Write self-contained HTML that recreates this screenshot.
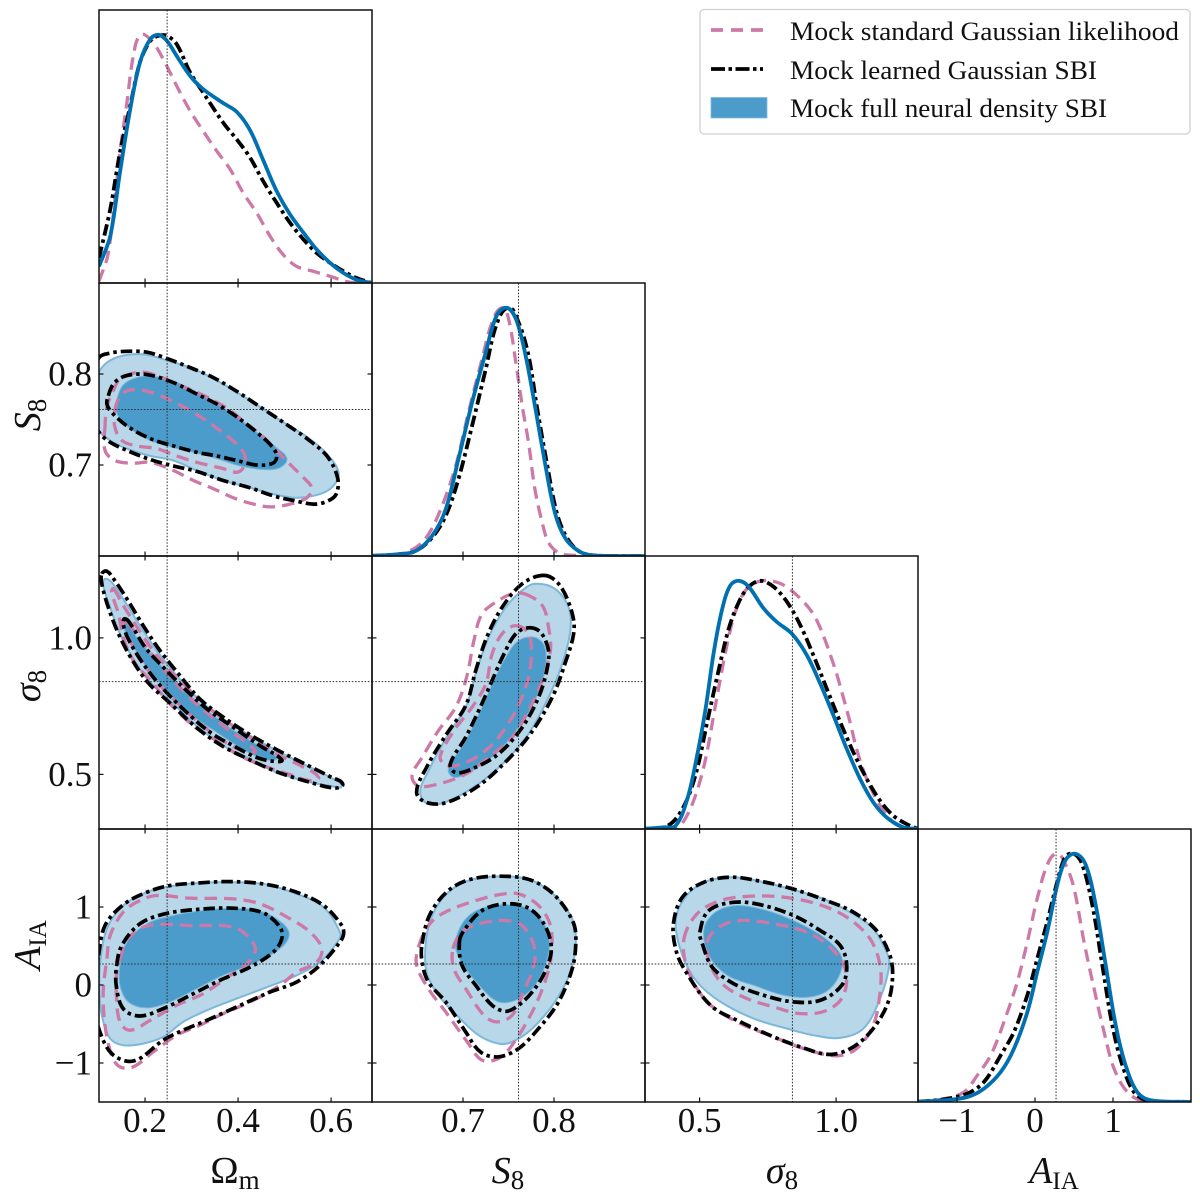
<!DOCTYPE html>
<html lang="en">
<head>
<meta charset="utf-8">
<title>Mock posterior corner plot</title>
<style>
html,body{margin:0;padding:0;background:#fff;}
svg{display:block;}
text{font-family:"Liberation Serif",serif;fill:#111;}
</style>
</head>
<body>
<svg id="chart" xmlns="http://www.w3.org/2000/svg" width="1200" height="1200" viewBox="0 0 1200 1200">
  <rect x="0" y="0" width="1200" height="1200" fill="#fff"/>
  <g id="panels"></g>
  <g id="ticklabels"></g>
  <g>
    <text x="235" y="1183" text-anchor="middle" font-size="38">Ω<tspan dy="6" font-size="27">m</tspan></text>
    <text x="508" y="1183" text-anchor="middle" font-size="38"><tspan font-style="italic">S</tspan><tspan dy="6" font-size="27">8</tspan></text>
    <text x="782" y="1183" text-anchor="middle" font-size="38"><tspan font-style="italic">σ</tspan><tspan dy="6" font-size="27">8</tspan></text>
    <text x="1054" y="1183" text-anchor="middle" font-size="38"><tspan font-style="italic">A</tspan><tspan dy="6" font-size="25">IA</tspan></text>
    <text transform="translate(40 415) rotate(-90)" text-anchor="middle" font-size="38"><tspan font-style="italic">S</tspan><tspan dy="6" font-size="27">8</tspan></text>
    <text transform="translate(40 686) rotate(-90)" text-anchor="middle" font-size="38"><tspan font-style="italic">σ</tspan><tspan dy="6" font-size="27">8</tspan></text>
    <text transform="translate(40 945) rotate(-90)" text-anchor="middle" font-size="38"><tspan font-style="italic">A</tspan><tspan dy="6" font-size="25">IA</tspan></text>
  </g>
  <g>
    <rect x="700" y="9.5" width="490" height="124.5" rx="4" fill="#fff" stroke="#d0d0d0" stroke-width="1.3"/>
    <line x1="711" y1="30" x2="763" y2="30" stroke="#cc79a7" stroke-width="3.8" stroke-dasharray="12 8"/>
    <text x="790" y="40" font-size="26" textLength="389" lengthAdjust="spacingAndGlyphs">Mock standard Gaussian likelihood</text>
    <line x1="711" y1="69" x2="763" y2="69" stroke="#000" stroke-width="3.8" stroke-dasharray="14 3.5 3.5 3.5"/>
    <text x="790" y="79" font-size="26" textLength="307" lengthAdjust="spacingAndGlyphs">Mock learned Gaussian SBI</text>
    <rect x="711" y="97.5" width="56" height="20.5" fill="#4b9ccb" stroke="#7fb9dc" stroke-width="0.8"/>
    <text x="790" y="117" font-size="26" textLength="317" lengthAdjust="spacingAndGlyphs">Mock full neural density SBI</text>
  </g>
</svg>
<script>
// ---------- tick values and labels ----------
const omTicks = [0.2, 0.4, 0.6];
const omTickLabels = ["0.2", "0.4", "0.6"];
const s8Ticks = [0.7, 0.8];
const s8TickLabels = ["0.7", "0.8"];
const sigTicks = [0.5, 1.0];
const sigTickLabels = ["0.5", "1.0"];
const aTicks = [-1, 0, 1];
const aTickLabels = ["\u22121", "0", "1"];

// ---------- fiducial truth values ----------
const truthOm = 0.2475;
const truthS8 = 0.761;
const truthSig = 0.84;
const truthA = 0.27;

// ---------- 1D marginals: [parameter value, normalised density] ----------
const omBlue = [[.101,.067],[.125,.188],[.146,.444],[.168,.700],[.189,.888],[.211,.982],[.229,1],[.247,.976],[.268,.915],[.297,.834],[.325,.781],[.368,.725],[.397,.690],[.426,.615],[.454,.495],[.483,.370],[.512,.276],[.541,.202],[.569,.135],[.598,.081],[.627,.040],[.655,.013],[.687,0]];
const omBlack = [[.101,.101],[.125,.296],[.146,.525],[.168,.713],[.189,.888],[.211,.976],[.229,.996],[.247,.996],[.268,.962],[.297,.848],[.325,.767],[.368,.646],[.397,.579],[.426,.505],[.454,.410],[.483,.323],[.512,.242],[.541,.175],[.569,.121],[.598,.081],[.627,.047],[.655,.020],[.687,0]];
const omPink = [[.101,.007],[.121,.121],[.146,.525],[.161,.727],[.175,.915],[.191,1],[.214,.976],[.239,.902],[.268,.794],[.297,.693],[.325,.612],[.354,.532],[.383,.458],[.411,.363],[.440,.283],[.469,.188],[.497,.114],[.526,.067],[.562,.047],[.598,.027],[.641,.003],[.687,0]];

const s8Blue = [[.600,.001],[.629,.007],[.648,.020],[.666,.081],[.681,.188],[.695,.390],[.710,.619],[.725,.821],[.737,.969],[.748,1],[.758,.956],[.768,.821],[.779,.606],[.790,.377],[.801,.175],[.812,.074],[.827,.020],[.842,.003],[.900,0]];
const s8Black = [[.600,.001],[.629,.007],[.648,.020],[.666,.074],[.681,.162],[.695,.310],[.710,.525],[.725,.754],[.737,.935],[.750,1],[.761,.942],[.772,.808],[.781,.606],[.792,.377],[.803,.175],[.814,.074],[.827,.020],[.842,.003],[.900,0]];
const s8Pink = [[.600,.001],[.629,.007],[.648,.034],[.662,.087],[.677,.202],[.692,.363],[.706,.579],[.721,.794],[.732,.942],[.743,1],[.750,.956],[.758,.781],[.765,.606],[.772,.458],[.779,.269],[.787,.135],[.794,.054],[.805,.013],[.820,.003],[.900,0]];

const sigBlue = [[.302,.001],[.370,.007],[.412,.013],[.455,.121],[.491,.296],[.522,.485],[.552,.713],[.583,.888],[.613,.982],[.644,1],[.680,.976],[.735,.888],[.783,.834],[.838,.787],[.893,.700],[.942,.585],[.990,.458],[1.039,.323],[1.088,.202],[1.136,.108],[1.185,.047],[1.246,.007],[1.298,.001]];
const sigBlack = [[.302,.001],[.370,.007],[.412,.040],[.455,.121],[.491,.242],[.528,.431],[.571,.646],[.607,.808],[.644,.915],[.680,.976],[.723,1],[.771,.976],[.820,.915],[.869,.821],[.917,.700],[.966,.565],[1.015,.431],[1.063,.310],[1.112,.202],[1.161,.114],[1.209,.054],[1.258,.020],[1.298,.001]];
const sigPink = [[.302,.001],[.406,.001],[.443,.034],[.485,.135],[.522,.283],[.558,.498],[.595,.713],[.631,.875],[.674,.969],[.729,1],[.796,.989],[.856,.942],[.911,.875],[.948,.794],[.996,.646],[1.021,.552],[1.051,.431],[1.075,.323],[1.112,.202],[1.161,.094],[1.209,.027],[1.246,.007],[1.298,.001]];

const aBlue = [[-1.5,.001],[-1.167,.007],[-.868,.020],[-.654,.054],[-.440,.121],[-.269,.215],[-.098,.363],[.030,.525],[.158,.686],[.286,.875],[.393,.976],[.521,1],[.650,.956],[.778,.794],[.906,.552],[1.034,.310],[1.162,.148],[1.312,.040],[1.483,.007],[1.996,0]];
const aBlack = [[-1.5,.001],[-1.167,.011],[-.868,.034],[-.654,.081],[-.440,.188],[-.269,.283],[-.098,.431],[.030,.579],[.158,.727],[.286,.888],[.393,.989],[.500,1],[.607,.956],[.735,.794],[.863,.552],[.991,.310],[1.120,.148],[1.269,.040],[1.440,.007],[1.996,0]];
const aPink = [[-1.5,.001],[-1.167,.013],[-.910,.040],[-.739,.108],[-.568,.188],[-.397,.323],[-.226,.485],[-.098,.646],[.030,.821],[.158,.956],[.278,1],[.393,.956],[.500,.861],[.628,.646],[.756,.458],[.885,.283],[1.013,.135],[1.184,.040],[1.397,.003],[1.996,0]];

// ---------- Omega_m vs S8 contours ----------
const omS8BlueOuter = [[.103,.804],[.125,.815],[.161,.821],[.204,.821],[.247,.815],[.297,.807],[.347,.795],[.397,.780],[.447,.764],[.497,.747],[.548,.731],[.591,.712],[.616,.692],[.605,.677],[.576,.668],[.526,.664],[.476,.668],[.426,.675],[.368,.683],[.311,.694],[.261,.705],[.211,.710],[.161,.718],[.125,.727],[.100,.738],[.089,.756],[.089,.786]];
const omS8BlueInner = [[.138,.767],[.153,.788],[.189,.797],[.225,.797],[.268,.791],[.311,.780],[.354,.767],[.397,.753],[.440,.736],[.483,.719],[.505,.707],[.490,.697],[.454,.695],[.404,.699],[.354,.707],[.311,.713],[.261,.719],[.211,.727],[.168,.740],[.143,.753]];
const omS8BlackOuter = [[.101,.818],[.125,.823],[.161,.825],[.204,.824],[.247,.817],[.297,.807],[.347,.796],[.397,.781],[.447,.764],[.497,.747],[.548,.729],[.591,.710],[.614,.686],[.611,.668],[.591,.660],[.562,.657],[.519,.661],[.476,.666],[.426,.675],[.368,.683],[.311,.693],[.261,.699],[.211,.706],[.161,.716],[.125,.725],[.101,.736],[.085,.756],[.085,.793]];
const omS8BlackInner = [[.121,.776],[.132,.789],[.153,.797],[.189,.800],[.225,.797],[.268,.789],[.311,.778],[.354,.767],[.397,.753],[.440,.736],[.472,.721],[.483,.710],[.475,.702],[.440,.700],[.397,.705],[.354,.710],[.311,.714],[.261,.721],[.211,.729],[.161,.743],[.128,.758],[.118,.767]];
const omS8PinkOuter = [[.114,.742],[.114,.716],[.135,.705],[.175,.702],[.211,.703],[.261,.694],[.304,.683],[.347,.674],[.390,.664],[.426,.658],[.469,.654],[.512,.657],[.548,.664],[.558,.675],[.541,.686],[.519,.697],[.490,.712],[.454,.731],[.419,.745],[.383,.760],[.347,.771],[.311,.780],[.268,.789],[.232,.797],[.196,.802],[.168,.800],[.146,.795],[.132,.782],[.118,.764]];
const omS8PinkInner = [[.135,.760],[.146,.775],[.164,.782],[.196,.782],[.239,.775],[.282,.764],[.325,.751],[.361,.738],[.397,.723],[.415,.710],[.411,.697],[.397,.692],[.368,.696],[.311,.703],[.268,.710],[.225,.718],[.182,.721],[.150,.727],[.135,.742]];

// ---------- Omega_m vs sigma8 contours ----------
const omSigBlueOuter = [[.114,1.216],[.128,1.204],[.153,1.143],[.189,1.045],[.225,.954],[.268,.862],[.311,.782],[.368,.703],[.426,.642],[.483,.587],[.541,.538],[.598,.489],[.623,.458],[.598,.458],[.548,.474],[.483,.507],[.426,.556],[.368,.605],[.311,.678],[.261,.758],[.211,.837],[.175,.923],[.146,1.015],[.125,1.112],[.110,1.192]];
const omSigBlueInner = [[.161,1.057],[.182,1.002],[.225,.917],[.268,.837],[.318,.758],[.376,.678],[.433,.617],[.483,.562],[.454,.556],[.404,.599],[.354,.654],[.297,.721],[.247,.807],[.204,.892],[.171,.978],[.153,1.045]];
const omSigBlackOuter = [[.107,1.235],[.118,1.244],[.135,1.210],[.161,1.143],[.196,1.045],[.232,.954],[.275,.862],[.318,.776],[.372,.705],[.429,.642],[.487,.587],[.544,.538],[.601,.489],[.625,.465],[.609,.450],[.555,.471],[.487,.507],[.426,.553],[.365,.605],[.308,.675],[.257,.756],[.207,.835],[.171,.923],[.143,1.015],[.121,1.112],[.107,1.198]];
const omSigBlackInner = [[.157,1.070],[.171,1.045],[.200,.966],[.243,.886],[.286,.813],[.333,.740],[.390,.672],[.447,.605],[.494,.553],[.476,.548],[.440,.562],[.390,.605],[.340,.654],[.286,.733],[.236,.819],[.196,.905],[.164,.996],[.153,1.051]];
const omSigPinkOuter = [[.132,1.180],[.153,1.119],[.207,.978],[.247,.892],[.297,.807],[.354,.721],[.426,.636],[.483,.575],[.541,.526],[.573,.489],[.555,.477],[.512,.499],[.454,.532],[.404,.568],[.347,.630],[.304,.678],[.254,.758],[.218,.831],[.175,.917],[.153,1.002],[.143,1.088],[.128,1.167]];
const omSigPinkInner = [[.161,1.057],[.189,.996],[.225,.917],[.268,.831],[.311,.758],[.368,.678],[.437,.587],[.419,.581],[.368,.623],[.311,.697],[.261,.776],[.218,.856],[.175,.966],[.150,1.057]];

// ---------- S8 vs sigma8 contours ----------
const s8SigBlueOuter = [[.779,1.198],[.801,1.180],[.816,1.112],[.818,1.027],[.809,.905],[.794,.782],[.772,.648],[.747,.550],[.717,.465],[.684,.403],[.662,.391],[.653,.434],[.662,.513],[.684,.648],[.703,.746],[.715,.880],[.728,1.002],[.747,1.112],[.765,1.174]];
const s8SigBlueInner = [[.779,1.002],[.790,.966],[.790,.880],[.779,.770],[.761,.672],[.736,.575],[.706,.507],[.690,.489],[.684,.520],[.703,.623],[.721,.746],[.734,.844],[.747,.929],[.761,.990]];
const s8SigBlackOuter = [[.789,1.229],[.805,1.198],[.818,1.112],[.822,1.027],[.812,.905],[.798,.782],[.774,.648],[.748,.550],[.717,.458],[.682,.397],[.660,.397],[.649,.434],[.660,.526],[.682,.648],[.703,.752],[.714,.880],[.726,1.002],[.743,1.112],[.765,1.198]];
const s8SigBlackInner = [[.772,1.037],[.785,1.021],[.794,.954],[.792,.880],[.783,.782],[.765,.672],[.739,.575],[.710,.520],[.692,.507],[.686,.538],[.703,.636],[.719,.746],[.732,.844],[.745,.941],[.758,1.015]];
const s8SigPinkOuter = [[.768,1.161],[.787,1.119],[.794,1.039],[.796,.954],[.787,.844],[.774,.746],[.754,.636],[.728,.562],[.703,.501],[.673,.465],[.651,.458],[.644,.495],[.655,.562],[.673,.660],[.692,.746],[.704,.856],[.712,.990],[.721,1.088],[.739,1.137],[.754,1.161]];
const s8SigPinkInner = [[.758,1.045],[.772,1.015],[.775,.929],[.770,.831],[.756,.721],[.736,.623],[.714,.562],[.692,.532],[.679,.538],[.675,.568],[.690,.660],[.710,.746],[.725,.831],[.732,.941],[.743,1.015]];

// ---------- Omega_m vs A_IA contours ----------
const omABlueOuter = [[.103,.252],[.118,.721],[.153,1.019],[.204,1.190],[.254,1.267],[.318,1.309],[.383,1.318],[.454,1.296],[.526,1.168],[.584,.998],[.619,.678],[.616,.571],[.576,.294],[.526,.124],[.469,-.013],[.397,-.175],[.333,-.324],[.282,-.473],[.239,-.665],[.196,-.751],[.153,-.772],[.125,-.687],[.107,-.388],[.102,-.090]];
const omABlueInner = [[.146,.252],[.161,.550],[.204,.785],[.254,.883],[.325,.955],[.397,.985],[.454,.934],[.497,.785],[.510,.635],[.490,.465],[.433,.273],[.368,.124],[.311,-.047],[.254,-.217],[.204,-.294],[.164,-.217],[.146,-.004]];
const omABlackOuter = [[.100,.380],[.114,.763],[.153,1.028],[.204,1.190],[.254,1.275],[.318,1.309],[.383,1.326],[.454,1.296],[.526,1.190],[.584,1.019],[.623,.763],[.627,.657],[.619,.550],[.576,.252],[.526,.038],[.469,-.090],[.397,-.281],[.333,-.452],[.282,-.580],[.239,-.708],[.189,-.942],[.161,-.977],[.128,-.878],[.107,-.665],[.092,-.345],[.092,.038]];
const omABlackInner = [[.139,.252],[.150,.507],[.189,.785],[.243,.913],[.311,.968],[.390,.985],[.454,.925],[.490,.742],[.494,.593],[.476,.422],[.426,.230],[.361,.060],[.297,-.132],[.239,-.303],[.189,-.397],[.153,-.303],[.138,-.004]];
const omAPinkOuter = [[.118,.337],[.125,.635],[.153,.934],[.189,1.083],[.225,1.147],[.297,1.113],[.390,1.104],[.447,1.041],[.512,.849],[.555,.678],[.580,.465],[.569,.294],[.526,.166],[.490,-.004],[.426,-.217],[.368,-.367],[.318,-.516],[.268,-.644],[.218,-.857],[.175,-1.049],[.146,-1.049],[.128,-.900],[.114,-.516],[.110,-.090]];
const omAPinkInner = [[.146,.337],[.161,.571],[.189,.721],[.225,.776],[.297,.763],[.390,.742],[.426,.593],[.437,.443],[.419,.273],[.383,.124],[.325,-.111],[.268,-.260],[.211,-.452],[.168,-.580],[.146,-.473],[.138,-.090],[.139,.166]];

// ---------- S8 vs A_IA contours ----------
const s8ABlueOuter = [[.659,.529],[.666,.891],[.684,1.190],[.710,1.352],[.747,1.394],[.776,1.339],[.801,1.147],[.820,.849],[.824,.550],[.818,.166],[.801,-.217],[.776,-.559],[.754,-.729],[.739,-.751],[.717,-.644],[.695,-.409],[.673,-.132],[.660,.166]];
const s8ABlueInner = [[.692,.593],[.703,.849],[.721,.985],[.747,1.028],[.772,.977],[.790,.763],[.795,.507],[.789,.209],[.776,-.047],[.758,-.196],[.739,-.217],[.721,-.047],[.703,.209],[.693,.422]];
const s8ABlackOuter = [[.655,.529],[.664,.913],[.684,1.211],[.710,1.360],[.747,1.394],[.776,1.339],[.801,1.147],[.821,.806],[.824,.550],[.820,.209],[.805,-.217],[.783,-.559],[.761,-.815],[.739,-.921],[.719,-.857],[.703,-.601],[.681,-.217],[.662,.038],[.655,.294]];
const s8ABlackInner = [[.696,.550],[.701,.699],[.721,.955],[.747,1.041],[.772,.985],[.790,.763],[.797,.465],[.790,.166],[.776,-.090],[.761,-.260],[.747,-.337],[.732,-.260],[.714,-.004],[.699,.252]];
const s8APinkOuter = [[.651,.486],[.662,.763],[.677,.913],[.703,1.041],[.739,1.156],[.761,1.168],[.783,1.019],[.796,.763],[.797,.380],[.790,.038],[.776,-.345],[.754,-.772],[.739,-.942],[.721,-.964],[.706,-.751],[.681,-.345],[.662,-.047],[.649,.252]];
const s8APinkInner = [[.689,.465],[.699,.678],[.717,.785],[.747,.827],[.765,.763],[.778,.507],[.778,.252],[.768,-.047],[.754,-.388],[.737,-.473],[.723,-.388],[.703,-.047],[.690,.209]];

// ---------- sigma8 vs A_IA contours ----------
const sigABlueOuter = [[.412,.806],[.443,1.104],[.516,1.318],[.613,1.382],[.710,1.339],[.832,1.232],[.954,1.104],[1.051,.934],[1.136,.721],[1.185,.422],[1.195,.252],[1.161,-.175],[1.100,-.559],[1.015,-.678],[.917,-.644],[.820,-.559],[.698,-.431],[.577,-.217],[.491,.038],[.437,.380]];
const sigABlueInner = [[.516,.721],[.558,.934],[.637,1.019],[.747,.955],[.856,.806],[.954,.614],[1.015,.401],[1.021,.209],[.978,-.047],[.905,-.154],[.808,-.132],[.698,-.004],[.601,.124],[.534,.380]];
const sigABlackOuter = [[.404,.785],[.437,1.126],[.516,1.318],[.613,1.382],[.710,1.339],[.832,1.241],[.954,1.096],[1.063,.934],[1.148,.699],[1.197,.380],[1.207,.124],[1.191,-.217],[1.136,-.559],[1.063,-.793],[.978,-.891],[.869,-.793],[.771,-.665],[.650,-.473],[.540,-.260],[.443,.209],[.412,.465]];
const sigABlackInner = [[.501,.678],[.534,.955],[.631,1.062],[.735,1.019],[.844,.891],[.942,.699],[1.015,.507],[1.039,.252],[1.021,-.004],[.942,-.196],[.844,-.217],[.735,-.132],[.625,.017],[.546,.230],[.510,.529]];
const sigAPinkOuter = [[.443,.593],[.491,.913],[.577,1.083],[.686,1.139],[.808,1.126],[.929,1.041],[1.039,.870],[1.124,.593],[1.161,.252],[1.161,-.090],[1.136,-.516],[1.075,-.815],[1.002,-.908],[.881,-.815],[.771,-.665],[.637,-.473],[.528,-.217],[.455,.209]];
const sigAPinkInner = [[.528,.550],[.571,.742],[.650,.827],[.771,.785],[.893,.678],[.978,.486],[1.033,.209],[1.027,-.132],[.966,-.324],[.869,-.367],[.771,-.281],[.674,-.175],[.589,-.004],[.540,.252]];

// ---------- axis functions ----------
const colLeft = [99, 372, 645, 918];
const rowTop = [10, 283, 556, 829];
const size = 273;
function xOm(v){ return 99 + (v - 0.101) / (0.688 - 0.101) * size; }
function xS8(v){ return 372 + (v - 0.6) / 0.3 * size; }
function xSig(v){ return 645 + (v - 0.3) / 1.0 * size; }
function xA(v){ return 918 + (v + 1.5) / 3.5 * size; }
function yS8(v){ return 283 + (0.9 - v) / 0.3 * size; }
function ySig(v){ return 556 + (1.3 - v) / 1.0 * size; }
function yA(v){ return 829 + (2 - v) / 3.5 * size; }
function yDensity(top){ return function(p){ return top + size - p / 1.1 * size; }; }

// ---------- drawing helpers ----------
const NS = "http://www.w3.org/2000/svg";
const panelsRoot = document.getElementById("panels");
const labelsRoot = document.getElementById("ticklabels");
const BLUE = "#0070b0", BLUE_EDGE = "#7db7da", FILL_OUT = "#b8d7e9", FILL_IN = "#4b9ccb", PINK = "#cc79a7";
const DASH_PINK = "12.5 7", DASH_BLACK = "11.5 4 3.5 4";
let clipCounter = 0;

function smoothPath(pts, closed){
  const n = pts.length;
  const at = function(i){ return closed ? pts[(i + n) % n] : pts[Math.max(0, Math.min(n - 1, i))]; };
  const unit = function(a, b){
    const dx = b[0] - a[0], dy = b[1] - a[1], l = Math.hypot(dx, dy) || 1;
    return [dx / l, dy / l];
  };
  let d = "M" + pts[0][0].toFixed(1) + " " + pts[0][1].toFixed(1);
  const last = closed ? n : n - 1;
  for (let i = 0; i < last; i++){
    const p0 = at(i - 1), p1 = at(i), p2 = at(i + 1), p3 = at(i + 2);
    const chord = Math.hypot(p2[0] - p1[0], p2[1] - p1[1]) / 3;
    const t1 = unit(p0, p2), t2 = unit(p1, p3);
    const c1x = p1[0] + t1[0] * chord, c1y = p1[1] + t1[1] * chord;
    const c2x = p2[0] - t2[0] * chord, c2y = p2[1] - t2[1] * chord;
    d += "C" + c1x.toFixed(1) + " " + c1y.toFixed(1) + " " + c2x.toFixed(1) + " " + c2y.toFixed(1) + " " + p2[0].toFixed(1) + " " + p2[1].toFixed(1);
  }
  return closed ? d + "Z" : d;
}
function mapPoints(data, fx, fy){
  return data.map(function(q){ return [fx(q[0]), fy(q[1])]; });
}
function makePanel(col, row){
  const g = document.createElementNS(NS, "g");
  
  
  const cp = document.createElementNS(NS, "clipPath");
  const id = "clip" + (clipCounter++);
  cp.setAttribute("id", id);
  const cr = document.createElementNS(NS, "rect");
  cr.setAttribute("x", colLeft[col]);
  cr.setAttribute("y", rowTop[row]);
  cr.setAttribute("width", size);
  cr.setAttribute("height", size);
  cp.appendChild(cr);
  g.appendChild(cp);
  const inner = document.createElementNS(NS, "g");
  inner.setAttribute("clip-path", "url(#" + id + ")");
  g.appendChild(inner);
  panelsRoot.appendChild(g);
  return {outer: g, inner: inner, col: col, row: row};
}
function drawFill(panel, data, fx, fy, fill){
  const path = document.createElementNS(NS, "path");
  
  
  path.setAttribute("d", smoothPath(mapPoints(data, fx, fy), true));
  path.setAttribute("fill", fill);
  path.setAttribute("stroke", BLUE_EDGE);
  path.setAttribute("stroke-width", fill === FILL_OUT ? "2" : "1");
  panel.inner.appendChild(path);
}
function drawContour(panel, data, fx, fy, color, dash){
  const path = document.createElementNS(NS, "path");
  
  
  path.setAttribute("d", smoothPath(mapPoints(data, fx, fy), true));
  path.setAttribute("fill", "none");
  path.setAttribute("stroke", color);
  path.setAttribute("stroke-width", color === PINK ? "3.3" : "3.7");
  path.setAttribute("stroke-dasharray", dash);
  panel.inner.appendChild(path);
}
function drawDensity(panel, data, fx, fy, color, dash){
  const path = document.createElementNS(NS, "path");
  
  
  path.setAttribute("d", smoothPath(mapPoints(data, fx, fy), false));
  path.setAttribute("fill", "none");
  path.setAttribute("stroke", color);
  path.setAttribute("stroke-width", color === PINK ? "3.3" : "3.8");
  if (dash) path.setAttribute("stroke-dasharray", dash);
  panel.inner.appendChild(path);
}
function drawTruthV(panel, px){
  const line = document.createElementNS(NS, "line");
  
  
  line.setAttribute("x1", px);
  line.setAttribute("x2", px);
  line.setAttribute("y1", rowTop[panel.row]);
  line.setAttribute("y2", rowTop[panel.row] + size);
  line.setAttribute("stroke", "#333");
  line.setAttribute("stroke-width", "1");
  line.setAttribute("stroke-dasharray", "1.6 1.6");
  panel.outer.appendChild(line);
}
function drawTruthH(panel, py){
  const line = document.createElementNS(NS, "line");
  
  
  line.setAttribute("x1", colLeft[panel.col]);
  line.setAttribute("x2", colLeft[panel.col] + size);
  line.setAttribute("y1", py);
  line.setAttribute("y2", py);
  line.setAttribute("stroke", "#333");
  line.setAttribute("stroke-width", "1");
  line.setAttribute("stroke-dasharray", "1.6 1.6");
  panel.outer.appendChild(line);
}
function tickLine(panel, x1, y1, x2, y2){
  const line = document.createElementNS(NS, "line");
  
  
  line.setAttribute("x1", x1);
  line.setAttribute("y1", y1);
  line.setAttribute("x2", x2);
  line.setAttribute("y2", y2);
  line.setAttribute("stroke", "#111");
  line.setAttribute("stroke-width", "1.2");
  panel.outer.appendChild(line);
}
function drawFrame(panel){
  const r = document.createElementNS(NS, "rect");
  
  
  r.setAttribute("x", colLeft[panel.col]);
  r.setAttribute("y", rowTop[panel.row]);
  r.setAttribute("width", size);
  r.setAttribute("height", size);
  r.setAttribute("fill", "none");
  r.setAttribute("stroke", "#111");
  r.setAttribute("stroke-width", "1.5");
  panel.outer.appendChild(r);
}
function xTicks(panel, ticks, fx, both){
  const top = rowTop[panel.row], bottom = top + size, L = 4.5;
  ticks.forEach(function(t){
    const px = fx(t);
    tickLine(panel, px, bottom, px, bottom - L);
    if (both) tickLine(panel, px, top, px, top + L);
  });
}
function yTicks(panel, ticks, fy){
  const left = colLeft[panel.col], right = left + size, L = 4.5;
  ticks.forEach(function(t){
    const py = fy(t);
    tickLine(panel, left, py, left + L, py);
    tickLine(panel, right, py, right - L, py);
  });
}
function xLabels(ticks, labels, fx){
  ticks.forEach(function(t, i){
    const txt = document.createElementNS(NS, "text");
    
    
    txt.setAttribute("x", fx(t));
    txt.setAttribute("y", 1132);
    txt.setAttribute("text-anchor", "middle");
    txt.setAttribute("font-size", "35");
    txt.textContent = labels[i];
    labelsRoot.appendChild(txt);
  });
}
function yLabels(ticks, labels, fy){
  ticks.forEach(function(t, i){
    const txt = document.createElementNS(NS, "text");
    
    
    txt.setAttribute("x", 92);
    txt.setAttribute("y", (fy(t) + 11.5).toFixed(1));
    txt.setAttribute("text-anchor", "end");
    txt.setAttribute("font-size", "35");
    txt.textContent = labels[i];
    labelsRoot.appendChild(txt);
  });
}
function panel1D(col, fx, ticks, truth, blue, black, pink){
  const panel = makePanel(col, col);
  const fy = yDensity(rowTop[col]);
  drawDensity(panel, pink, fx, fy, PINK, DASH_PINK);
  drawDensity(panel, black, fx, fy, "#000", DASH_BLACK);
  drawDensity(panel, blue, fx, fy, BLUE, null);
  drawTruthV(panel, fx(truth));
  xTicks(panel, ticks, fx, false);
  drawFrame(panel);
}
function panel2D(col, row, fx, fy, xt, yt, truthX, truthY, blueOut, blueIn, pinkOut, pinkIn, blackOut, blackIn){
  const panel = makePanel(col, row);
  drawFill(panel, blueOut, fx, fy, FILL_OUT);
  drawFill(panel, blueIn, fx, fy, FILL_IN);
  drawContour(panel, pinkOut, fx, fy, PINK, DASH_PINK);
  drawContour(panel, pinkIn, fx, fy, PINK, DASH_PINK);
  drawContour(panel, blackOut, fx, fy, "#000", DASH_BLACK);
  drawContour(panel, blackIn, fx, fy, "#000", DASH_BLACK);
  drawTruthV(panel, fx(truthX));
  drawTruthH(panel, fy(truthY));
  xTicks(panel, xt, fx, true);
  yTicks(panel, yt, fy);
  drawFrame(panel);
}

// ---------- build the figure ----------
panel1D(0, xOm, omTicks, truthOm, omBlue, omBlack, omPink);
panel1D(1, xS8, s8Ticks, truthS8, s8Blue, s8Black, s8Pink);
panel1D(2, xSig, sigTicks, truthSig, sigBlue, sigBlack, sigPink);
panel1D(3, xA, aTicks, truthA, aBlue, aBlack, aPink);

panel2D(0, 1, xOm, yS8, omTicks, s8Ticks, truthOm, truthS8, omS8BlueOuter, omS8BlueInner, omS8PinkOuter, omS8PinkInner, omS8BlackOuter, omS8BlackInner);
panel2D(0, 2, xOm, ySig, omTicks, sigTicks, truthOm, truthSig, omSigBlueOuter, omSigBlueInner, omSigPinkOuter, omSigPinkInner, omSigBlackOuter, omSigBlackInner);
panel2D(1, 2, xS8, ySig, s8Ticks, sigTicks, truthS8, truthSig, s8SigBlueOuter, s8SigBlueInner, s8SigPinkOuter, s8SigPinkInner, s8SigBlackOuter, s8SigBlackInner);
panel2D(0, 3, xOm, yA, omTicks, aTicks, truthOm, truthA, omABlueOuter, omABlueInner, omAPinkOuter, omAPinkInner, omABlackOuter, omABlackInner);
panel2D(1, 3, xS8, yA, s8Ticks, aTicks, truthS8, truthA, s8ABlueOuter, s8ABlueInner, s8APinkOuter, s8APinkInner, s8ABlackOuter, s8ABlackInner);
panel2D(2, 3, xSig, yA, sigTicks, aTicks, truthSig, truthA, sigABlueOuter, sigABlueInner, sigAPinkOuter, sigAPinkInner, sigABlackOuter, sigABlackInner);

xLabels(omTicks, omTickLabels, xOm);
xLabels(s8Ticks, s8TickLabels, xS8);
xLabels(sigTicks, sigTickLabels, xSig);
xLabels(aTicks, aTickLabels, xA);
yLabels(s8Ticks, s8TickLabels, yS8);
yLabels(sigTicks, sigTickLabels, ySig);
yLabels(aTicks, aTickLabels, yA);
</script>
</body>
</html>
